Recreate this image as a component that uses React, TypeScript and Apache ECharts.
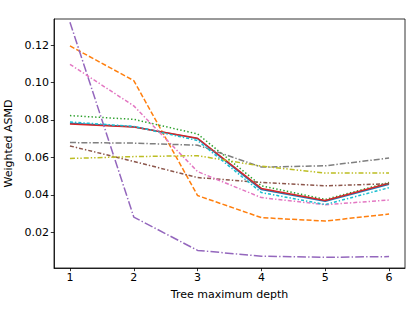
import React, { useEffect, useRef } from "react";
import * as echarts from "echarts";

const depths = [1, 2, 3, 4, 5, 6];
const xTicks = [1, 2, 3, 4, 5, 6];
const yTicks = [0.02, 0.04, 0.06, 0.08, 0.1, 0.12];

const blueVals = [0.0782, 0.0764, 0.0700, 0.0428, 0.0366, 0.0456];
const orangeVals = [0.1195, 0.1010, 0.0396, 0.0278, 0.0260, 0.0297];
const greenVals = [0.0823, 0.0803, 0.0725, 0.0448, 0.0375, 0.0466];
const redVals = [0.0778, 0.0762, 0.0702, 0.0434, 0.0370, 0.0462];
const purpleVals = [0.1322, 0.0281, 0.0103, 0.0072, 0.0066, 0.0070];
const brownVals = [0.0661, 0.0578, 0.0492, 0.0466, 0.0448, 0.0459];
const pinkVals = [0.1097, 0.0875, 0.0524, 0.0385, 0.0347, 0.0372];
const grayVals = [0.0679, 0.0676, 0.0665, 0.0548, 0.0555, 0.0596];
const oliveVals = [0.0594, 0.0604, 0.0609, 0.0553, 0.0516, 0.0516];
const cyanVals = [0.0789, 0.0765, 0.0690, 0.0412, 0.0348, 0.0438];

const seriesDefs = [
  { name: "s1", color: "#1f77b4", dash: "solid" as any, vals: blueVals },
  { name: "s2", color: "#ff7f0e", dash: [5, 2.2], vals: orangeVals },
  { name: "s3", color: "#2ca02c", dash: [1.4, 2.2], vals: greenVals },
  { name: "s4", color: "#d62728", dash: "solid" as any, vals: redVals },
  { name: "s5", color: "#9467bd", dash: [8.7, 2.2, 1.4, 2.2], vals: purpleVals },
  { name: "s6", color: "#8c564b", dash: [4, 2, 1.4, 2], vals: brownVals },
  { name: "s7", color: "#e377c2", dash: [4, 2, 1.4, 2], vals: pinkVals },
  { name: "s8", color: "#7f7f7f", dash: [6, 2, 1.4, 2], vals: grayVals },
  { name: "s9", color: "#bcbd22", dash: [5, 2, 1.4, 2, 1.4, 2], vals: oliveVals },
  { name: "s10", color: "#17becf", dash: [3, 2, 1.4, 2], vals: cyanVals },
];

const FONT = "DejaVu Sans";
const FS = 11;

export default function App() {
  const ref = useRef<HTMLDivElement>(null);
  useEffect(() => {
    if (!ref.current) return;
    const chart = echarts.init(ref.current, null, { renderer: "svg" });
    chart.setOption({
      animation: false,
      backgroundColor: "#ffffff",
      grid: {
        left: 54,
        right: 10,
        top: 19,
        bottom: 43,
        show: true,
        borderColor: "#000",
        borderWidth: 0.8,
        backgroundColor: "transparent",
        containLabel: false,
        outerBoundsMode: "none",
      },
      xAxis: {
        type: "value",
        min: 0.75,
        max: 6.25,
        name: "Tree maximum depth",
        nameLocation: "middle",
        nameGap: 21,
        nameTextStyle: { fontFamily: FONT, fontSize: FS, color: "#000" },
        axisLine: { show: true, lineStyle: { color: "#000", width: 0.8 } },
        axisTick: { show: true, length: 3.2, lineStyle: { color: "#000", width: 0.8 }, customValues: xTicks },
        axisLabel: {
          fontFamily: FONT,
          fontSize: FS,
          color: "#000",
          margin: 4,
          customValues: xTicks,
          formatter: (v: number) => String(v),
        },
        splitLine: { show: false },
      },
      yAxis: {
        type: "value",
        min: 0.0009,
        max: 0.1339,
        name: "Weighted ASMD",
        nameLocation: "middle",
        nameGap: 33,
        nameTextStyle: { fontFamily: FONT, fontSize: FS, color: "#000" },
        axisLine: { show: true, lineStyle: { color: "#000", width: 0.8 } },
        axisTick: { show: true, length: 3.2, lineStyle: { color: "#000", width: 0.8 }, customValues: yTicks },
        axisLabel: {
          fontFamily: FONT,
          fontSize: FS,
          color: "#000",
          margin: 5,
          customValues: yTicks,
          formatter: (v: number) => v.toFixed(2),
        },
        splitLine: { show: false },
      },
      series: seriesDefs.map((s) => ({
        name: s.name,
        type: "line",
        data: depths.map((d, i) => [d, s.vals[i]]),
        symbol: "none",
        lineStyle: { color: s.color, width: 1.5, type: s.dash, cap: "butt" },
        itemStyle: { color: s.color },
      })),
    });
    return () => chart.dispose();
  }, []);
  return <div ref={ref} style={{ width: 415, height: 311, position: "absolute", left: 0, top: 0 }} />;
}
